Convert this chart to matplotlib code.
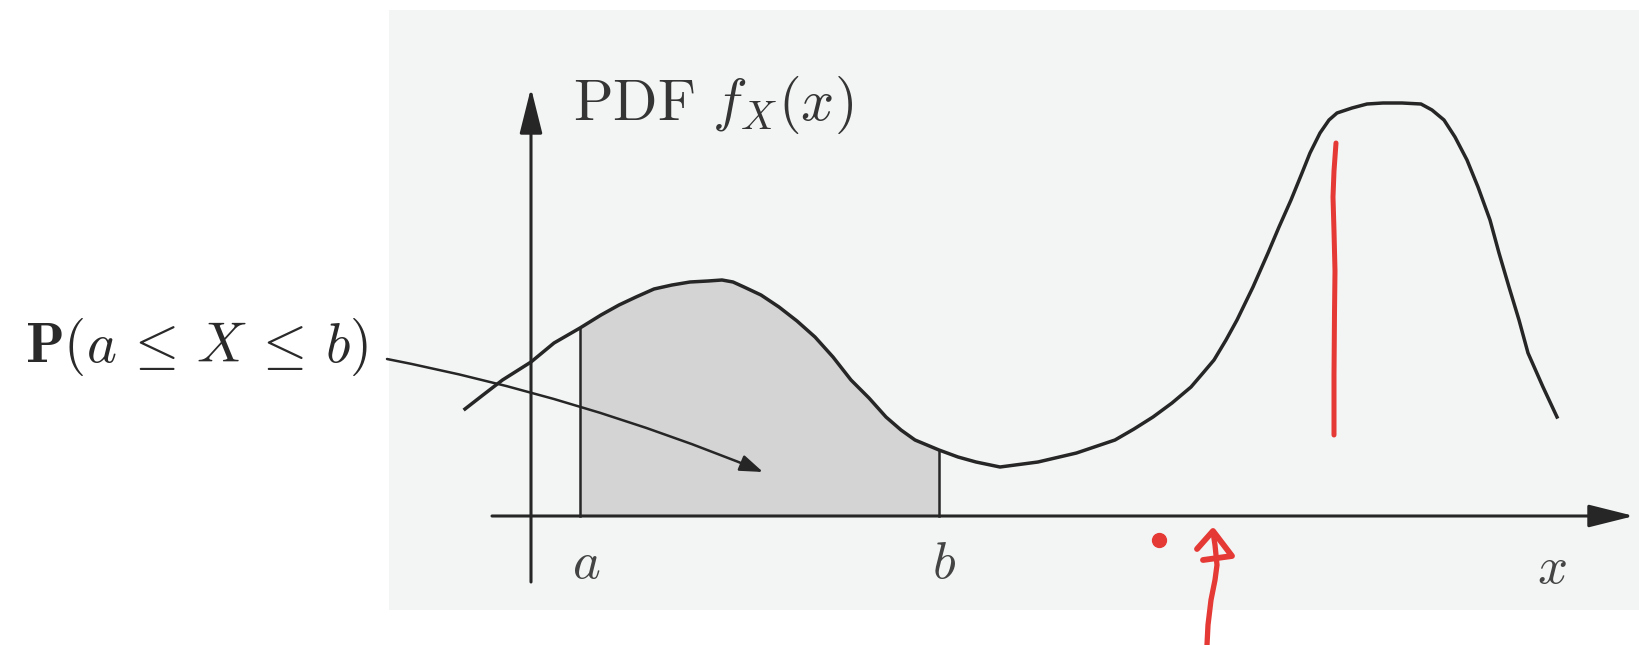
import matplotlib
matplotlib.use("Agg")
import matplotlib.pyplot as plt
from matplotlib.patches import Rectangle, FancyArrowPatch
import numpy as np

plt.rcParams["mathtext.fontset"] = "cm"

# Density curve f_X(x), sampled along its length
curve_x = [-0.66, -0.48, -0.285, 0.00, 0.23, 0.49, 0.70, 0.88, 1.05, 1.23,
           1.41, 1.59, 1.77, 1.91, 2.02, 2.13, 2.30, 2.48, 2.66, 2.84,
           3.02, 3.20, 3.38, 3.55, 3.70, 3.84, 4.08, 4.27, 4.45, 4.69,
           5.07, 5.455, 5.84, 6.03, 6.22, 6.41, 6.60, 6.72, 6.83, 6.95,
           7.06, 7.22, 7.37, 7.48, 7.60, 7.71, 7.79, 7.89, 7.98, 8.06,
           8.21, 8.36, 8.52, 8.71, 8.90, 9.01, 9.13, 9.24, 9.36, 9.47,
           9.59, 9.68, 9.78, 9.88, 9.97, 10.12, 10.26]
curve_y = [1.07, 1.21, 1.36, 1.54, 1.73, 1.88, 2.01, 2.11, 2.19, 2.27,
           2.31, 2.34, 2.35, 2.36, 2.34, 2.29, 2.21, 2.09, 1.95, 1.79,
           1.59, 1.36, 1.18, 0.99, 0.86, 0.76, 0.66, 0.59, 0.54, 0.49,
           0.54, 0.63, 0.76, 0.87, 0.99, 1.13, 1.29, 1.43, 1.56, 1.76,
           1.96, 2.29, 2.63, 2.89, 3.16, 3.43, 3.63, 3.83, 3.96, 4.03,
           4.08, 4.12, 4.13, 4.13, 4.12, 4.06, 3.96, 3.79, 3.56, 3.29,
           2.96, 2.63, 2.29, 1.96, 1.63, 1.29, 0.99]

# Interval limits
a_val = 0.49
b_val = 4.08

# Hand-drawn red marks
red_line_x = [8.05, 8.03, 8.02, 8.03, 8.04, 8.035, 8.03, 8.03]
red_line_y = [3.73, 3.45, 3.19, 2.85, 2.45, 2.03, 1.41, 0.81]
red_dot = (6.28, -0.24)
red_shaft_x = [6.76, 6.77, 6.80, 6.84, 6.86, 6.84, 6.82]
red_shaft_y = [-1.29, -1.09, -0.84, -0.64, -0.49, -0.29, -0.16]
red_head_x = [6.66, 6.82, 7.01, 6.72]
red_head_y = [-0.33, -0.15, -0.40, -0.44]

INK = "#262626"
RED = "#e53935"

fig = plt.figure(figsize=(16.4, 6.45), dpi=100)
fig.patch.set_facecolor("white")
ax = fig.add_axes([0, 0, 1, 1])
ax.set_xlim(-5.31, 11.09)
ax.set_ylim(-1.29, 5.16)
ax.axis("off")

# light panel behind the diagram
ax.add_patch(Rectangle((-1.42, -0.94), 12.6, 6.0, facecolor="#f3f5f5",
                       edgecolor="none", zorder=0))

cx = np.array(curve_x)
cy = np.array(curve_y)

# shaded probability region
mask = (cx >= a_val - 1e-9) & (cx <= b_val + 1e-9)
ax.fill_between(cx[mask], 0, cy[mask], color="#d4d4d4", zorder=1, linewidth=0)
fa = cy[np.isclose(cx, a_val)][0]
fb = cy[np.isclose(cx, b_val)][0]
ax.plot([a_val, a_val], [0, fa], color=INK, lw=1.8, zorder=2)
ax.plot([b_val, b_val], [0, fb], color=INK, lw=1.8, zorder=2)

# axes with arrow heads
axis_style = "-|>,head_length=2.8,head_width=0.7"
ax.annotate("", xy=(11.03, 0), xytext=(-0.39, 0),
            arrowprops=dict(arrowstyle=axis_style, lw=2.2, color=INK,
                            shrinkA=0, shrinkB=0), zorder=3)
ax.annotate("", xy=(0, 4.28), xytext=(0, -0.66),
            arrowprops=dict(arrowstyle=axis_style, lw=2.2, color=INK,
                            shrinkA=0, shrinkB=0), zorder=3)

# density curve
ax.plot(cx, cy, color=INK, lw=2.5, zorder=4, solid_joinstyle="round")

# labels
ax.text(0.42, 3.96, r"$\mathrm{PDF}\ f_X(x)$", fontsize=42, color="#353535",
        ha="left", va="baseline", zorder=5)
ax.text(-5.06, 1.54, r"$\mathbf{P}(a \,\leq\, X \,\leq\, b)$", fontsize=41,
        color="#2a2a2a", ha="left", va="baseline", zorder=5)
ax.text(a_val + 0.06, -0.47, r"$a$", fontsize=38, color="#444444",
        ha="center", va="center", zorder=5)
ax.text(b_val + 0.05, -0.47, r"$b$", fontsize=38, color="#444444",
        ha="center", va="center", zorder=5)
ax.text(10.21, -0.52, r"$x$", fontsize=38, color="#444444",
        ha="center", va="center", zorder=5)

# pointer from the probability label into the shaded area
ax.add_patch(FancyArrowPatch((-1.44, 1.57), (2.32, 0.44),
                             connectionstyle="arc3,rad=-0.05",
                             arrowstyle="-|>,head_length=14,head_width=5",
                             lw=1.8, color=INK, shrinkA=0, shrinkB=0, zorder=5))

# red pen marks
ax.plot(red_line_x, red_line_y, color=RED, lw=3.6, solid_capstyle="round",
        solid_joinstyle="round", zorder=6)
ax.plot([red_dot[0]], [red_dot[1]], "o", color=RED, ms=10, zorder=6)
ax.plot(red_shaft_x, red_shaft_y, color=RED, lw=3.8, solid_capstyle="round",
        solid_joinstyle="round", zorder=6)
ax.plot(red_head_x, red_head_y, color=RED, lw=4.2, solid_capstyle="round",
        solid_joinstyle="round", zorder=6)

fig.savefig("out.png", dpi=100, facecolor="white")
